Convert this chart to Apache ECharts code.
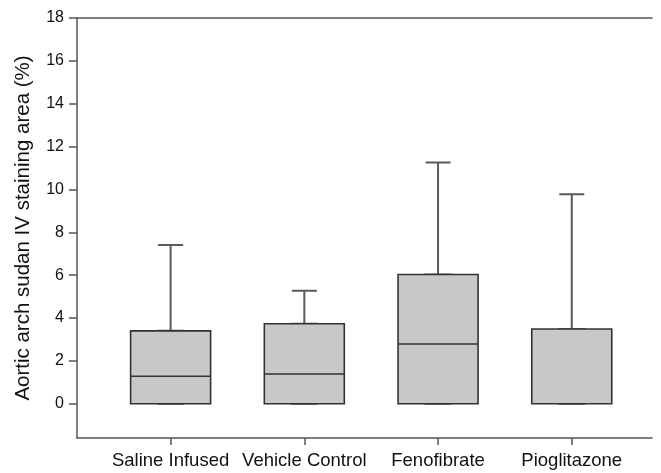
<!DOCTYPE html>
<html>
<head>
<meta charset="utf-8">
<script src="https://cdn.jsdelivr.net/npm/echarts@6/dist/echarts.min.js"></script>
<style>html,body{margin:0;padding:0;background:#fff}#c{width:661px;height:473px}</style>
</head>
<body>
<div id="c"></div>
<script>
var categories = ['Saline Infused', 'Vehicle Control', 'Fenofibrate', 'Pioglitazone'];
var minVals = [0, 0, 0, 0];
var q1Vals = [0, 0, 0, 0];
var medianVals = [1.28, 1.39, 2.79, 0];
var q3Vals = [3.40, 3.73, 6.03, 3.49];
var maxVals = [7.41, 5.27, 11.26, 9.77];
var yTicks = [0, 2, 4, 6, 8, 10, 12, 14, 16, 18];
var xPositions = [1, 2, 3, 4];

var whiskerData = categories.map(function (c, i) {
  return [xPositions[i], minVals[i], q1Vals[i], medianVals[i], q3Vals[i], maxVals[i]];
});
var boxData = categories.map(function (c, i) {
  return [xPositions[i], q1Vals[i], q1Vals[i], medianVals[i], q3Vals[i], q3Vals[i]];
});

var font = 'Liberation Sans, Arial, sans-serif';
var chart = echarts.init(document.getElementById('c'));
chart.setOption({
  animation: false,
  backgroundColor: '#fff',
  grid: { left: 77, right: 9, top: 18, bottom: 35, containLabel: false },
  xAxis: [{
    type: 'value', min: 0.3, max: 4.6,
    axisLine: { show: true, onZero: false, lineStyle: { color: '#555', width: 1.5 } },
    axisTick: { show: true, customValues: xPositions, length: 7, inside: false, lineStyle: { color: '#555', width: 1.5 } },
    axisLabel: { show: true, customValues: xPositions, margin: 13, fontFamily: font, fontSize: 18.5, color: '#111',
      formatter: function (v) { return categories[Math.round(v) - 1] || ''; } },
    splitLine: { show: false }
  }, {
    type: 'value', min: 0.3, max: 4.6, position: 'top',
    axisLine: { show: true, onZero: false, lineStyle: { color: '#555', width: 1.5 } },
    axisTick: { show: false }, axisLabel: { show: false }, splitLine: { show: false }
  }],
  yAxis: {
    type: 'value', min: -1.6, max: 18,
    name: 'Aortic arch sudan IV staining area (%)',
    nameLocation: 'middle', nameGap: 43,
    nameTextStyle: { fontFamily: font, fontSize: 20.5, color: '#111' },
    axisLine: { show: true, onZero: false, lineStyle: { color: '#555', width: 1.5 } },
    axisTick: { show: true, customValues: yTicks, length: 8, lineStyle: { color: '#555', width: 1.5 } },
    axisLabel: { show: true, customValues: yTicks, margin: 13, fontFamily: font, fontSize: 16, color: '#111' },
    splitLine: { show: false }
  },
  series: [{
    type: 'boxplot', xAxisIndex: 0,
    data: whiskerData,
    boxWidth: [25, 25],
    itemStyle: { color: '#c8c8c8', borderColor: '#5a5a5a', borderWidth: 2 }
  }, {
    type: 'boxplot', xAxisIndex: 1,
    data: boxData,
    boxWidth: [80, 80],
    itemStyle: { color: '#c8c8c8', borderColor: '#333', borderWidth: 1.6 }
  }]
});
</script>
</body>
</html>
